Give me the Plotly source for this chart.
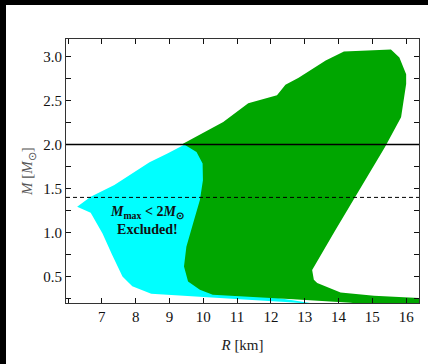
import plotly.graph_objects as go

# Cyan region (M_max < 2 M_sun excluded)
cyan_R = [6.27, 6.67, 7.37, 8.41, 8.94, 9.45, 10.0, 10.4, 10.5, 11.5, 13.5,
          12.67, 11.2, 9.5, 8.46, 7.9, 7.61, 7.3, 7.02, 6.67]
cyan_M = [1.293, 1.407, 1.54, 1.80, 1.90, 2.0, 1.98, 1.7, 0.8, 0.30, 0.18,
          0.206, 0.24, 0.28, 0.305, 0.39, 0.50, 0.75, 0.99, 1.226]

# Green allowed region
green_R = [9.40, 10.59, 11.33, 12.18, 12.43, 12.82, 13.62, 14.16, 15.55, 15.80,
           16.0, 16.0, 15.85, 15.37, 13.91, 13.46, 13.22, 13.27, 13.37, 14.06,
           15.05, 16.44, 16.6, 16.6, 14.36, 12.66, 11.18, 10.28, 9.90, 9.55,
           9.43, 9.50, 9.70, 9.90, 9.99, 9.98, 9.80]
green_M = [2.01, 2.256, 2.47, 2.56, 2.68, 2.76, 2.955, 3.057, 3.08, 2.99,
           2.80, 2.69, 2.31, 1.97, 1.03, 0.727, 0.576, 0.463, 0.426, 0.32,
           0.282, 0.256, 0.25, 0.1, 0.203, 0.242, 0.274, 0.293, 0.35, 0.444,
           0.614, 0.84, 1.105, 1.37, 1.596, 1.785, 1.916]

x_ticks = [7, 8, 9, 10, 11, 12, 13, 14, 15, 16]
x_minor_first = 6
x_minor_step = 1
y_tick_first = 0.5
y_tick_step = 0.5
y_minor_step = 0.25
M_max_line = 2.0
M_canon_line = 1.4

fig = go.Figure()
fig.add_trace(go.Scatter(x=cyan_R, y=cyan_M, fill="toself", mode="lines",
                         line=dict(width=0, color="#00ffff"), fillcolor="#00ffff",
                         hoverinfo="skip", showlegend=False))
fig.add_trace(go.Scatter(x=green_R, y=green_M, fill="toself", mode="lines",
                         line=dict(width=0, color="#00a600"), fillcolor="#00a600",
                         hoverinfo="skip", showlegend=False))

W, H = 428, 364
ml, mr, mt, mb = 66, 9, 39, 61
pw, ph = W - ml - mr, H - mt - mb

# white page with black strip at top/left
fig.add_shape(type="rect", xref="paper", yref="paper", layer="below",
              x0=(6 - ml) / pw, x1=1.3, y0=-0.5, y1=(H - mb - 5) / ph,
              fillcolor="white", line=dict(width=0))

fig.add_shape(type="line", xref="paper", yref="y", x0=0, x1=1,
              y0=M_max_line, y1=M_max_line, line=dict(color="black", width=1.5))
fig.add_shape(type="line", xref="paper", yref="y", x0=0, x1=1,
              y0=M_canon_line, y1=M_canon_line,
              line=dict(color="black", width=1, dash="4px,3px"))

fig.add_annotation(x=8.35, y=1.14, xref="x", yref="y", showarrow=False,
                   text="<b><i>M</i><sub>max</sub> &lt; 2<i>M</i><sub>⊙</sub></b><br><b>Excluded!</b>",
                   font=dict(family="Liberation Serif", size=14, color="#111"),
                   align="center")

axis_common = dict(showline=True, linecolor="#333", linewidth=1.2, mirror="ticks",
                   ticks="inside", ticklen=5, tickwidth=1, tickcolor="#111",
                   showgrid=False, zeroline=False,
                   tickfont=dict(family="Liberation Serif", size=15, color="#111"))

fig.update_layout(
    width=W, height=H,
    margin=dict(l=ml, r=mr, t=mt, b=mb),
    paper_bgcolor="black", plot_bgcolor="white",
    xaxis=dict(range=[5.94, 16.38], tickmode="array", tickvals=x_ticks,
               minor=dict(ticks="inside", ticklen=5, tickwidth=1, tickcolor="#111",
                          tick0=x_minor_first, dtick=x_minor_step),
               title=dict(text="<i>R</i> [km]", standoff=15,
                          font=dict(family="Liberation Serif", size=15, color="#222")),
               **axis_common),
    yaxis=dict(range=[0.2, 3.2], tick0=y_tick_first, dtick=y_tick_step, tickformat=".1f",
               minor=dict(ticks="inside", ticklen=5, tickwidth=1, tickcolor="#111",
                          tick0=y_tick_first, dtick=y_minor_step),
               title=dict(text="<i>M</i> [<i>M</i><sub>⊙</sub>]", standoff=6,
                          font=dict(family="Liberation Serif", size=15, color="#555")),
               **axis_common),
)

fig.write_html("out.html")
